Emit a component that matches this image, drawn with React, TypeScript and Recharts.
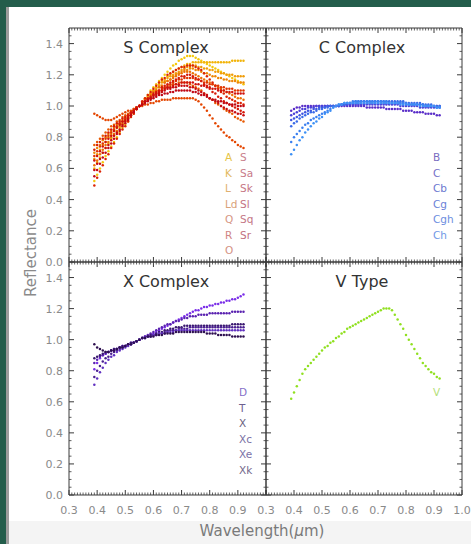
import React from 'react';
import { LineChart, Line, XAxis, YAxis } from 'recharts';

// ---------- data ----------
const WAVELENGTH = [
  0.39, 0.4, 0.41, 0.42, 0.43, 0.44, 0.45, 0.46, 0.47, 0.48, 0.49, 0.5, 0.51, 0.52, 0.53, 0.54, 0.55,
  0.56, 0.57, 0.58, 0.59, 0.6, 0.61, 0.62, 0.63, 0.64, 0.65,
  0.66, 0.67, 0.68, 0.69, 0.7, 0.71, 0.72, 0.73, 0.74, 0.75,
  0.76, 0.77, 0.78, 0.79, 0.8, 0.81, 0.82, 0.83, 0.84, 0.85,
  0.86, 0.87, 0.88, 0.89, 0.9, 0.91, 0.92,
];

// S complex
const S_A = [.52,.56,.60,.64,.68,.71,.74,.77,.80,.83,.86,.88,.90,.93,.95,.98,1.00, 1.02,1.05,1.07,1.10,1.12,1.14,1.16,1.18,1.20,1.22, 1.24,1.26,1.27,1.29,1.30,1.31,1.32,1.32,1.32,1.31, 1.30,1.29,1.28,1.27,1.26,1.25,1.24,1.23,1.22,1.21, 1.20,1.19,1.18,1.17,1.16,1.15,1.14];
const S_K = [.60,.64,.67,.70,.73,.76,.79,.81,.84,.86,.88,.90,.92,.94,.96,.98,1.00, 1.02,1.04,1.06,1.08,1.10,1.12,1.14,1.16,1.17,1.19, 1.20,1.22,1.23,1.24,1.25,1.26,1.27,1.27,1.28,1.28, 1.28,1.28,1.28,1.28,1.28,1.28,1.28,1.28,1.28,1.28, 1.28,1.28,1.29,1.29,1.29,1.29,1.29];
const S_L = [.66,.69,.72,.75,.77,.80,.82,.84,.86,.88,.90,.92,.93,.95,.97,.98,1.00, 1.02,1.04,1.06,1.08,1.10,1.11,1.13,1.15,1.16,1.18, 1.19,1.20,1.21,1.22,1.23,1.24,1.25,1.25,1.26,1.26, 1.25,1.25,1.24,1.24,1.23,1.23,1.22,1.22,1.21,1.21, 1.20,1.20,1.20,1.19,1.19,1.19,1.19];
const S_LD = [.70,.73,.75,.78,.80,.82,.84,.86,.88,.89,.91,.93,.94,.96,.97,.99,1.00, 1.02,1.04,1.05,1.07,1.09,1.10,1.12,1.13,1.15,1.16, 1.17,1.19,1.20,1.21,1.22,1.23,1.23,1.24,1.24,1.23, 1.23,1.22,1.21,1.21,1.20,1.19,1.19,1.18,1.18,1.17, 1.17,1.16,1.16,1.16,1.15,1.15,1.15];
const S_Q = [.62,.65,.69,.72,.75,.77,.80,.82,.84,.87,.89,.91,.92,.95,.96,.98,1.00, 1.02,1.04,1.05,1.07,1.09,1.10,1.12,1.13,1.15,1.16, 1.17,1.18,1.19,1.20,1.21,1.22,1.22,1.22,1.21,1.20, 1.19,1.18,1.17,1.16,1.15,1.14,1.13,1.12,1.11,1.10, 1.09,1.08,1.07,1.06,1.05,1.05,1.04];
const S_R = [.75,.77,.79,.81,.83,.85,.87,.88,.90,.91,.93,.94,.95,.96,.98,.99,1.00, 1.01,1.03,1.04,1.05,1.07,1.08,1.09,1.10,1.11,1.12, 1.13,1.14,1.14,1.15,1.15,1.15,1.15,1.14,1.13,1.12, 1.11,1.10,1.08,1.07,1.05,1.04,1.02,1.01,1.00,0.98, 0.97,0.96,0.95,0.93,0.92,0.91,0.90];
const S_O = [.95,.94,.93,.92,.91,.91,.91,.92,.93,.94,.95,.96,.97,.97,.98,.99,1.00, 1.00,1.01,1.01,1.02,1.02,1.03,1.03,1.04,1.04,1.04, 1.04,1.05,1.05,1.05,1.05,1.05,1.05,1.05,1.05,1.04, 1.03,1.01,0.99,0.97,0.94,0.92,0.89,0.87,0.85,0.83, 0.81,0.80,0.78,0.77,0.75,0.74,0.73];
const S_S = [.68,.71,.74,.76,.79,.81,.83,.85,.87,.89,.90,.92,.94,.95,.97,.99,1.00, 1.01,1.03,1.04,1.06,1.07,1.09,1.10,1.11,1.12,1.13, 1.14,1.15,1.16,1.17,1.17,1.18,1.18,1.18,1.18,1.17, 1.17,1.16,1.15,1.15,1.14,1.14,1.13,1.13,1.12,1.12, 1.11,1.11,1.11,1.10,1.10,1.10,1.10];
const S_SA = [.49,.54,.58,.62,.66,.69,.73,.76,.79,.82,.85,.87,.90,.93,.95,.98,1.00, 1.03,1.05,1.07,1.09,1.11,1.13,1.15,1.17,1.18,1.20, 1.21,1.22,1.23,1.24,1.25,1.25,1.26,1.26,1.26,1.25, 1.24,1.23,1.21,1.19,1.17,1.15,1.13,1.11,1.09,1.08, 1.06,1.05,1.04,1.03,1.02,1.02,1.01];
const S_SK = [.72,.75,.77,.79,.81,.83,.85,.87,.89,.90,.92,.93,.94,.96,.97,.99,1.00, 1.02,1.03,1.05,1.06,1.08,1.09,1.10,1.12,1.13,1.14, 1.15,1.16,1.17,1.18,1.19,1.19,1.20,1.20,1.19,1.18, 1.17,1.16,1.14,1.13,1.11,1.09,1.08,1.06,1.05,1.03, 1.02,1.01,1.00,0.99,0.98,0.97,0.96];
const S_SL = [.65,.68,.71,.74,.77,.79,.81,.84,.86,.88,.90,.91,.93,.95,.97,.98,1.00, 1.01,1.03,1.04,1.05,1.07,1.08,1.09,1.10,1.11,1.12, 1.12,1.13,1.14,1.14,1.15,1.15,1.15,1.15,1.15,1.14, 1.14,1.13,1.13,1.12,1.12,1.11,1.11,1.10,1.10,1.10, 1.09,1.09,1.09,1.08,1.08,1.08,1.08];
const S_SQ = [.59,.63,.66,.70,.73,.75,.78,.81,.83,.85,.88,.90,.92,.94,.96,.98,1.00, 1.01,1.03,1.04,1.05,1.06,1.07,1.08,1.09,1.10,1.11, 1.11,1.12,1.12,1.13,1.13,1.13,1.13,1.12,1.12,1.11, 1.10,1.09,1.08,1.07,1.05,1.04,1.03,1.02,1.00,0.99, 0.98,0.97,0.97,0.96,0.95,0.95,0.94];
const S_SR = [.55,.59,.63,.67,.70,.73,.76,.79,.82,.84,.87,.89,.91,.94,.96,.98,1.00, 1.01,1.02,1.03,1.04,1.05,1.06,1.07,1.07,1.08,1.08, 1.09,1.09,1.10,1.10,1.10,1.10,1.10,1.10,1.09,1.09, 1.08,1.07,1.07,1.06,1.05,1.04,1.04,1.03,1.03,1.02, 1.02,1.01,1.01,1.01,1.00,1.00,1.00];

// C complex
const C_B = [.97,.98,.99,.99,1.00,1.00,1.00,1.00,1.00,1.00,1.00,1.00,1.00,1.00,1.00,1.00,1.00, 1.00,1.00,1.00,1.00,1.00,1.00,1.00,1.00,1.00,1.00, .99,.99,.99,.99,.99,.99,.99,.98,.98,.98, .98,.98,.98,.97,.97,.97,.97,.96,.96,.96, .96,.95,.95,.95,.95,.94,.94];
const C_C = [.94,.95,.96,.97,.98,.98,.99,.99,.99,1.00,1.00,1.00,1.00,1.00,1.00,1.00,1.00, 1.00,1.01,1.01,1.01,1.01,1.01,1.01,1.01,1.01,1.01, 1.01,1.01,1.01,1.01,1.01,1.01,1.01,1.01,1.01,1.01, 1.01,1.01,1.00,1.00,1.00,1.00,1.00,1.00,1.00,.99, .99,.99,.99,.99,.99,.99,.99];
const C_CB = [.91,.92,.93,.94,.95,.96,.97,.97,.98,.98,.99,.99,.99,1.00,1.00,1.00,1.00, 1.00,1.01,1.01,1.01,1.02,1.02,1.02,1.02,1.02,1.02, 1.02,1.02,1.02,1.02,1.02,1.02,1.02,1.02,1.02,1.02, 1.02,1.02,1.02,1.02,1.02,1.01,1.01,1.01,1.01,1.01, 1.01,1.00,1.00,1.00,1.00,1.00,1.00];
const C_CG = [.87,.89,.90,.92,.93,.94,.95,.96,.96,.97,.98,.98,.99,.99,1.00,1.00,1.00, 1.00,1.01,1.01,1.02,1.02,1.02,1.03,1.03,1.03,1.03, 1.03,1.03,1.03,1.03,1.03,1.03,1.03,1.03,1.03,1.03, 1.03,1.03,1.03,1.03,1.02,1.02,1.02,1.02,1.02,1.02, 1.01,1.01,1.01,1.01,1.00,1.00,1.00];
const C_CGH = [.77,.80,.82,.84,.86,.88,.89,.91,.92,.93,.94,.95,.96,.97,.98,.99,1.00, 1.01,1.01,1.02,1.02,1.02,1.03,1.03,1.03,1.03,1.03, 1.03,1.03,1.03,1.03,1.03,1.03,1.03,1.03,1.02,1.02, 1.02,1.02,1.02,1.02,1.02,1.01,1.01,1.01,1.01,1.01, 1.01,1.00,1.00,1.00,1.00,.99,.99];
const C_CH = [.69,.72,.75,.78,.80,.83,.85,.87,.89,.90,.92,.93,.95,.96,.97,.99,1.00, 1.01,1.01,1.02,1.02,1.02,1.02,1.02,1.02,1.02,1.02, 1.02,1.02,1.02,1.02,1.02,1.02,1.02,1.02,1.02,1.02, 1.02,1.02,1.01,1.01,1.01,1.01,1.01,1.01,1.01,1.00, 1.00,1.00,1.00,1.00,1.00,.99,.99];

// X complex
const X_D = [.81,.85,.88,.90,.91,.92,.93,.94,.94,.95,.96,.96,.97,.98,.98,.99,1.00, 1.01,1.02,1.02,1.03,1.04,1.05,1.06,1.07,1.08,1.09, 1.10,1.11,1.12,1.13,1.14,1.15,1.16,1.17,1.18,1.19, 1.19,1.20,1.21,1.21,1.22,1.22,1.23,1.23,1.24,1.24, 1.25,1.25,1.26,1.26,1.27,1.28,1.29];
const X_T = [.85,.87,.89,.90,.91,.92,.93,.93,.94,.95,.95,.96,.97,.97,.98,.99,1.00, 1.01,1.02,1.03,1.04,1.05,1.06,1.07,1.08,1.09,1.10, 1.10,1.11,1.12,1.12,1.13,1.14,1.14,1.15,1.15,1.15, 1.16,1.16,1.16,1.16,1.17,1.17,1.17,1.17,1.17,1.17, 1.17,1.17,1.18,1.18,1.18,1.18,1.18];
const X_X = [.88,.89,.90,.91,.92,.92,.93,.94,.94,.95,.96,.96,.97,.98,.98,.99,1.00, 1.01,1.01,1.02,1.03,1.03,1.04,1.05,1.05,1.06,1.06, 1.07,1.07,1.08,1.08,1.08,1.09,1.09,1.09,1.09,1.09, 1.09,1.09,1.09,1.09,1.09,1.09,1.09,1.09,1.09,1.09, 1.09,1.09,1.10,1.10,1.10,1.10,1.10];
const X_XC = [.76,.80,.83,.86,.88,.89,.91,.92,.93,.94,.95,.96,.97,.97,.98,.99,1.00, 1.01,1.01,1.02,1.02,1.03,1.03,1.04,1.04,1.05,1.05, 1.06,1.06,1.06,1.07,1.07,1.07,1.07,1.08,1.08,1.08, 1.08,1.08,1.08,1.08,1.08,1.08,1.08,1.08,1.08,1.08, 1.08,1.08,1.08,1.08,1.08,1.08,1.08];
const X_XE = [.71,.75,.79,.82,.85,.87,.89,.90,.92,.93,.94,.95,.96,.97,.98,.99,1.00, 1.01,1.01,1.02,1.02,1.03,1.03,1.04,1.04,1.04,1.05, 1.05,1.05,1.06,1.06,1.06,1.06,1.06,1.06,1.06,1.06, 1.06,1.06,1.06,1.06,1.06,1.06,1.06,1.06,1.06,1.06, 1.06,1.06,1.06,1.06,1.06,1.06,1.06];
const X_XK = [.97,.95,.94,.93,.92,.92,.93,.93,.94,.95,.95,.96,.97,.97,.98,.99,1.00, 1.01,1.01,1.02,1.02,1.02,1.03,1.03,1.03,1.04,1.04, 1.04,1.04,1.05,1.05,1.05,1.05,1.05,1.05,1.05,1.05, 1.05,1.05,1.05,1.04,1.04,1.04,1.04,1.03,1.03,1.03, 1.03,1.03,1.02,1.02,1.02,1.02,1.02];

// V type
const V_V = [.62,.66,.70,.74,.78,.81,.83,.85,.87,.89,.91,.93,.95,.96,.98,.99,1.01, 1.02,1.04,1.05,1.07,1.08,1.09,1.10,1.11,1.12,1.13, 1.14,1.15,1.16,1.17,1.18,1.19,1.20,1.20,1.20,1.19, 1.16,1.13,1.10,1.07,1.03,1.00,0.97,0.94,0.91,0.88, 0.85,0.83,0.81,0.79,0.78,0.76,0.75];

const S_NAMES = ['A', 'K', 'L', 'Ld', 'Q', 'R', 'O', 'S', 'Sa', 'Sk', 'Sl', 'Sq', 'Sr'];
const S_VALUES = [S_A, S_K, S_L, S_LD, S_Q, S_R, S_O, S_S, S_SA, S_SK, S_SL, S_SQ, S_SR];
const S_COLORS = ['#f4c80c', '#f2b40a', '#f09c08', '#ee8606', '#ec7004', '#e85a02', '#e44600', '#e03400', '#dc2404', '#d61a08', '#d0120c', '#c80c10', '#c00814'];
const S_TEXT = ['#e6c446', '#e2b860', '#dfb070', '#d9a27a', '#d69684', '#cf8484', '#d49284', '#c9808c', '#c87a88', '#c67684', '#c47282', '#c47686', '#c27080'];

const C_NAMES = ['B', 'C', 'Cb', 'Cg', 'Cgh', 'Ch'];
const C_VALUES = [C_B, C_C, C_CB, C_CG, C_CGH, C_CH];
const C_COLORS = ['#5a2ec8', '#4a3fd8', '#3f55e0', '#3a6ae8', '#3a7ff0', '#3d90f5'];
const C_TEXT = ['#7a6cc0', '#7470c8', '#6c78d0', '#6a82d8', '#6c8ee0', '#7098e6'];

const X_NAMES = ['D', 'T', 'X', 'Xc', 'Xe', 'Xk'];
const X_VALUES = [X_D, X_T, X_X, X_XC, X_XE, X_XK];
const X_COLORS = ['#7a2ee8', '#5a22b0', '#3a1870', '#4b2090', '#6030c0', '#2e1050'];
const X_TEXT = ['#8470c8', '#6e6090', '#6a6080', '#7a70a4', '#7c72a8', '#74688c'];

const V_NAMES = ['V'];
const V_VALUES = [V_V];
const V_COLORS = ['#90e020'];
const V_TEXT = ['#b4e07a'];

const X_TICK_LABELS_LEFT = [0.3, 0.4, 0.5, 0.6, 0.7, 0.8, 0.9];
const X_TICK_LABELS_RIGHT = [0.3, 0.4, 0.5, 0.6, 0.7, 0.8, 0.9, 1.0];
const X_MAJOR = [0.3, 0.4, 0.5, 0.6, 0.7, 0.8, 0.9, 1.0];
const Y_TICK_LABELS = [0.0, 0.2, 0.4, 0.6, 0.8, 1.0, 1.2, 1.4];
const X_DOMAIN = [0.3, 1.0];
const Y_DOMAIN = [0, 1.5];

const X_ALL_TICKS = Array.from({ length: 71 }, (_, i) => (30 + i) / 100);
const Y_ALL_TICKS = Array.from({ length: 30 }, (_, i) => (i * 5) / 100);

// ---------- styles ----------
const AX = '#3a3a3a';
const TICK_TXT = '#8a8a8a';
const FONT = '"DejaVu Sans", sans-serif';

const isOn = (v: number, list: number[]) => list.some((m) => Math.abs(m - v) < 1e-6);

const makeBottomTick = (labels: number[]) => (p: any) => {
  const v = p.payload.value;
  const major = isOn(v, X_MAJOR);
  return (
    <g>
      <line x1={p.x} x2={p.x} y1={p.y} y2={p.y - (major ? 5 : 2.5)} stroke={AX} strokeWidth={major ? 1 : 0.8} />
      {isOn(v, labels) && (
        <text x={p.x} y={p.y + 19} textAnchor="middle" fontSize={11} fill={TICK_TXT} fontFamily={FONT}>
          {v.toFixed(1)}
        </text>
      )}
    </g>
  );
};
const TopTick = (p: any) => {
  const major = isOn(p.payload.value, X_MAJOR);
  return <line x1={p.x} x2={p.x} y1={p.y} y2={p.y + (major ? 5 : 2.5)} stroke={AX} strokeWidth={major ? 1 : 0.8} />;
};
const makeLeftTick = (labels: number[]) => (p: any) => {
  const v = p.payload.value;
  const major = isOn(v, Y_TICK_LABELS);
  return (
    <g>
      <line x1={p.x} x2={p.x + (major ? 5 : 2.5)} y1={p.y} y2={p.y} stroke={AX} strokeWidth={major ? 1 : 0.8} />
      {isOn(v, labels) && (
        <text x={p.x - 6} y={p.y + 4} textAnchor="end" fontSize={11} fill={TICK_TXT} fontFamily={FONT}>
          {v.toFixed(1)}
        </text>
      )}
    </g>
  );
};
const RightTick = (p: any) => {
  const major = isOn(p.payload.value, Y_TICK_LABELS);
  return <line x1={p.x} x2={p.x - (major ? 5 : 2.5)} y1={p.y} y2={p.y} stroke={AX} strokeWidth={major ? 1 : 0.8} />;
};

type PanelProps = {
  left: number;
  top: number;
  width: number;
  height: number;
  margin: { top: number; right: number; bottom: number; left: number };
  names: string[];
  values: number[][];
  colors: string[];
  xLabels: number[];
  yLabels: number[];
  xAxisHeight: number;
  yAxisWidth: number;
};

function Panel(props: PanelProps) {
  const { left, top, width, height, margin, names, values, colors, xLabels, yLabels, xAxisHeight, yAxisWidth } = props;
  const rows = WAVELENGTH.map((w, i) => {
    const r: Record<string, number> = { w };
    names.forEach((n, k) => {
      r[n] = values[k][i];
    });
    return r;
  });
  return (
    <div style={{ position: 'absolute', left, top }}>
      <LineChart width={width} height={height} data={rows} margin={margin}>
        <XAxis
          xAxisId="b"
          orientation="bottom"
          dataKey="w"
          type="number"
          domain={X_DOMAIN}
          allowDataOverflow
          ticks={X_ALL_TICKS}
          interval={0}
          tickSize={0}
          tickMargin={0}
          height={xAxisHeight}
          tickLine={false}
          axisLine={{ stroke: AX }}
          tick={makeBottomTick(xLabels)}
        />
        <XAxis
          xAxisId="t"
          orientation="top"
          dataKey="w"
          type="number"
          domain={X_DOMAIN}
          allowDataOverflow
          ticks={X_ALL_TICKS}
          interval={0}
          tickSize={0}
          tickMargin={0}
          height={1}
          tickLine={false}
          axisLine={{ stroke: AX }}
          tick={TopTick}
        />
        <YAxis
          yAxisId="l"
          orientation="left"
          type="number"
          domain={Y_DOMAIN}
          allowDataOverflow
          ticks={Y_ALL_TICKS}
          interval={0}
          tickSize={0}
          tickMargin={0}
          width={yAxisWidth}
          tickLine={false}
          axisLine={{ stroke: AX }}
          tick={makeLeftTick(yLabels)}
        />
        <YAxis
          yAxisId="r"
          orientation="right"
          type="number"
          domain={Y_DOMAIN}
          allowDataOverflow
          ticks={Y_ALL_TICKS}
          interval={0}
          tickSize={0}
          tickMargin={0}
          width={1}
          tickLine={false}
          axisLine={{ stroke: AX }}
          tick={RightTick}
        />
        {names.map((n, k) => (
          <Line
            key={n}
            xAxisId="b"
            yAxisId="l"
            dataKey={n}
            stroke="none"
            dot={{ r: 1.25, fill: colors[k], stroke: colors[k], strokeWidth: 0 }}
            activeDot={false}
            isAnimationActive={false}
          />
        ))}
      </LineChart>
    </div>
  );
}

const Legend = ({ x, y0, names, colors }: { x: number; y0: number; names: string[]; colors: string[] }) => (
  <>
    {names.map((n, i) => (
      <text key={n} x={x} y={y0 + i * 15.5 + 4} fontSize={10.5} fill={colors[i]} fontFamily={FONT}>
        {n}
      </text>
    ))}
  </>
);

export default function App() {
  return (
    <div style={{ position: 'absolute', left: 0, top: 0, width: 471, height: 544, background: '#ffffff', overflow: 'hidden' }}>
      <div style={{ position: 'absolute', left: 9, top: 521, width: 462, height: 23, background: '#f4f4f4' }} />
      <div style={{ position: 'absolute', left: 0, top: 0, width: 471, height: 7, background: '#235d4b' }} />
      <div style={{ position: 'absolute', left: 0, top: 0, width: 6, height: 544, background: '#235d4b' }} />
      <div style={{ position: 'absolute', left: 6, top: 7, width: 3, height: 537, background: '#9c9c9c' }} />

      {/* plot areas: left x 69-266, right x 266-462; top y 28-262, bottom y 262-495 */}
      <Panel left={0} top={0} width={267} height={270} margin={{ top: 27, right: 0, bottom: 0, left: 0 }}
        names={S_NAMES} values={S_VALUES} colors={S_COLORS} xLabels={[]} yLabels={Y_TICK_LABELS} xAxisHeight={8} yAxisWidth={69} />
      <Panel left={250} top={0} width={213} height={270} margin={{ top: 27, right: 0, bottom: 0, left: 15 }}
        names={C_NAMES} values={C_VALUES} colors={C_COLORS} xLabels={[]} yLabels={[]} xAxisHeight={8} yAxisWidth={1} />
      <Panel left={0} top={250} width={267} height={270} margin={{ top: 11, right: 0, bottom: 0, left: 0 }}
        names={X_NAMES} values={X_VALUES} colors={X_COLORS} xLabels={X_TICK_LABELS_LEFT} yLabels={Y_TICK_LABELS} xAxisHeight={25} yAxisWidth={69} />
      <Panel left={250} top={250} width={221} height={270} margin={{ top: 11, right: 8, bottom: 0, left: 15 }}
        names={V_NAMES} values={V_VALUES} colors={V_COLORS} xLabels={X_TICK_LABELS_RIGHT} yLabels={[]} xAxisHeight={25} yAxisWidth={1} />

      <svg width={471} height={544} style={{ position: 'absolute', left: 0, top: 0, pointerEvents: 'none' }}>
        <g fontFamily={FONT} fill="#333">
          <text x={166} y={53} fontSize={16} textAnchor="middle">S Complex</text>
          <text x={362} y={53} fontSize={16} textAnchor="middle">C Complex</text>
          <text x={166} y={287} fontSize={16} textAnchor="middle">X Complex</text>
          <text x={362} y={287} fontSize={16} textAnchor="middle">V Type</text>
        </g>
        <Legend x={225} y0={157} names={S_NAMES.slice(0, 7)} colors={S_TEXT.slice(0, 7)} />
        <Legend x={240} y0={157} names={S_NAMES.slice(7)} colors={S_TEXT.slice(7)} />
        <Legend x={433} y0={157} names={C_NAMES} colors={C_TEXT} />
        <Legend x={239} y0={392} names={X_NAMES} colors={X_TEXT} />
        <Legend x={433} y0={392} names={V_NAMES} colors={V_TEXT} />
        <text x={31} y={253} fontSize={15} fill="#8a8a8a" fontFamily={FONT} textAnchor="middle" dominantBaseline="central" transform="rotate(-90 31 253)">
          Reflectance
        </text>
        <text x={262} y={536} fontSize={15} fill="#7a7a7a" fontFamily={FONT} textAnchor="middle">
          Wavelength(<tspan fontStyle="italic">μ</tspan>m)
        </text>
      </svg>
    </div>
  );
}
